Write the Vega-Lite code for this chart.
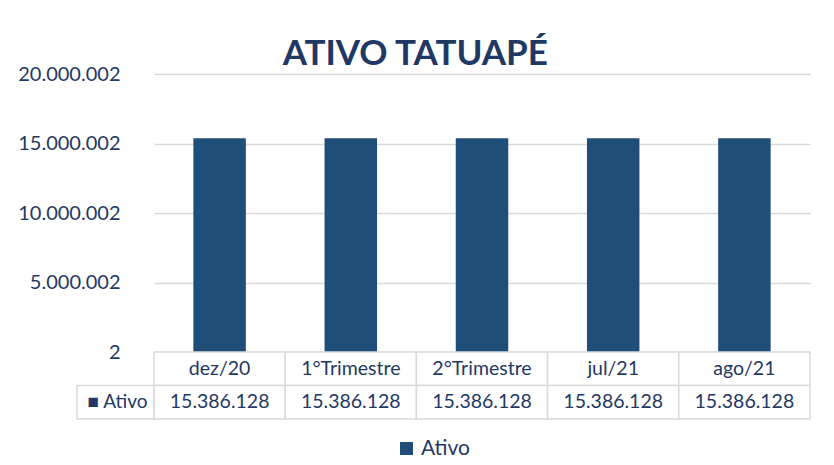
{
  "$schema": "https://vega.github.io/schema/vega-lite/v6.json",
  "background": "white",
  "padding": {"left": 17, "top": 37, "right": 24, "bottom": 8},
  "title": {"text": "ATIVO TATUAPÉ", "font": "Lato", "fontSize": 35, "fontWeight": "bold", "color": "#1f3864", "anchor": "middle", "dx": 1, "offset": -8},
  "datasets": {
    "ativo": [
      {"periodo": "dez/20", "valor": 15386128, "serie": "Ativo"},
      {"periodo": "1°Trimestre", "valor": 15386128, "serie": "Ativo"},
      {"periodo": "2°Trimestre", "valor": 15386128, "serie": "Ativo"},
      {"periodo": "jul/21", "valor": 15386128, "serie": "Ativo"},
      {"periodo": "ago/21", "valor": 15386128, "serie": "Ativo"}
    ]
  },
  "columns": 2,
  "spacing": 0,
  "bounds": "flush",
  "concat": [
    {
      "width": 77, "height": 278,
      "data": {"values": []},
      "view": {"stroke": null},
      "mark": {"type": "point", "opacity": 0}
    },
    {
      "width": 656, "height": 278,
      "data": {"name": "ativo"},
      "view": {"stroke": null},
      "mark": {"type": "bar", "width": {"band": 0.4}},
      "encoding": {
        "x": {"field": "periodo", "type": "nominal", "sort": null, "scale": {"paddingInner": 0, "paddingOuter": 0}, "axis": null},
        "y": {"field": "valor", "type": "quantitative",
          "scale": {"domain": [2, 20000002], "nice": false, "zero": false},
          "axis": {"values": [2, 5000002, 10000002, 15000002, 20000002], "format": ",d", "title": null, "domain": false, "ticks": false, "grid": true, "gridColor": "#d9d9d9", "gridWidth": 1.5, "labelFont": "Lato", "labelFontSize": 20, "labelColor": "#1f3864", "labelPadding": 34}},
        "color": {"field": "serie", "type": "nominal", "scale": {"range": ["#1f4e79"]},
          "legend": {"orient": "none", "legendX": 319, "legendY": 364, "title": null, "symbolType": "square", "symbolSize": 170, "labelFont": "Lato", "labelFontSize": 21, "labelColor": "#1f3864"}}
      }
    },
    {
      "width": 77, "height": 67,
      "data": {"values": [{"r": "v"}]},
      "view": {"stroke": null},
      "encoding": {"y": {"datum": "v", "type": "nominal", "scale": {"domain": ["h", "v"], "paddingInner": 0, "paddingOuter": 0}, "axis": null}},
      "layer": [
        {"mark": {"type": "rect", "fill": "white", "stroke": "#d9d9d9", "strokeWidth": 1.5}},
        {"mark": {"type": "text", "text": "■ Ativo", "font": "Lato", "fontSize": 19, "color": "#1f3864", "align": "center", "baseline": "middle", "dx": 2}}
      ]
    },
    {
      "width": 656, "height": 67,
      "data": {"name": "ativo"},
      "view": {"stroke": null},
      "encoding": {"x": {"field": "periodo", "type": "nominal", "sort": null, "scale": {"paddingInner": 0, "paddingOuter": 0}, "axis": null}},
      "layer": [
        {"mark": {"type": "rect", "fill": "white", "stroke": "#d9d9d9", "strokeWidth": 1.5},
         "encoding": {"y": {"datum": "h", "type": "nominal", "scale": {"domain": ["h", "v"], "paddingInner": 0, "paddingOuter": 0}, "axis": null}}},
        {"mark": {"type": "rect", "fill": "white", "stroke": "#d9d9d9", "strokeWidth": 1.5},
         "encoding": {"y": {"datum": "v", "type": "nominal"}}},
        {"mark": {"type": "text", "font": "Lato", "fontSize": 19.5, "color": "#1f3864", "align": "center", "baseline": "middle"},
         "encoding": {"y": {"datum": "h", "type": "nominal"}, "text": {"field": "periodo", "type": "nominal"}}},
        {"mark": {"type": "text", "font": "Lato", "fontSize": 19.5, "color": "#1f3864", "align": "center", "baseline": "middle"},
         "encoding": {"y": {"datum": "v", "type": "nominal"}, "text": {"field": "valor", "type": "quantitative", "format": ",d"}}}
      ]
    }
  ],
  "config": {
    "locale": {"number": {"decimal": ",", "thousands": ".", "grouping": [3], "currency": ["R$", ""]}}
  }
}
